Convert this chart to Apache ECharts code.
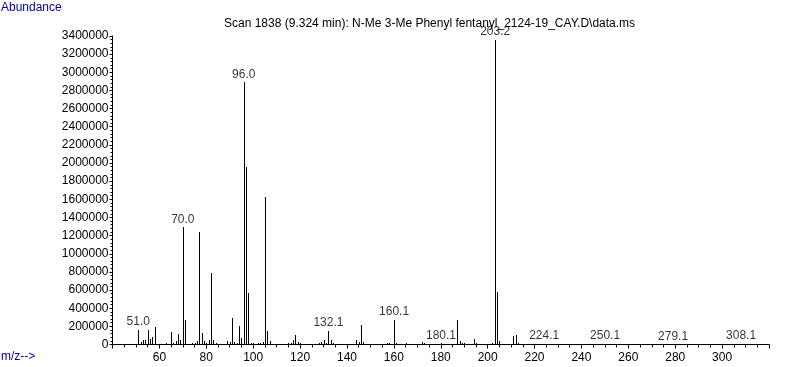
<!DOCTYPE html>
<html>
<head>
<meta charset="utf-8">
<script src="https://cdn.jsdelivr.net/npm/echarts@6/dist/echarts.min.js"></script>
<style>
  html, body { margin: 0; padding: 0; background: #fff; }
  #chart { width: 787px; height: 367px; }
</style>
</head>
<body>
<div id="chart"></div>
<script>
// m/z values and their abundances
const mzValues = [
  51, 52, 53, 54, 55, 56, 57, 58, 59, 62, 63, 64, 65, 66, 67, 68, 69, 70, 71, 72,
  74, 75, 76, 77, 78, 79, 80, 81, 82, 83, 84, 85, 89, 90, 91, 92, 93, 94, 95, 96,
  97, 98, 99, 100, 101, 102, 103, 104, 105, 106, 107, 108, 115, 116, 117, 118, 119, 120, 122, 126,
  128, 129, 130, 131, 132, 133, 134, 139, 143, 144, 145, 146, 147, 156, 157, 158, 160, 161, 165, 166,
  167, 172, 173, 174, 175, 176, 180, 187, 188, 189, 190, 194, 195, 196, 201, 202, 203, 204, 205, 206,
  208, 211, 212, 213, 224, 250, 279, 308
];
const abundances = [
  165000, 30000, 50000, 50000, 165000, 65000, 80000, 190000, 10000, 10000, 22000, 10000, 135000, 20000, 35000, 120000, 50000, 1290000, 270000, 10000,
  15000, 15000, 40000, 1240000, 125000, 40000, 15000, 50000, 790000, 55000, 15000, 10000, 40000, 30000, 290000, 30000, 15000, 200000, 72000, 2890000,
  1960000, 565000, 20000, 15000, 10000, 15000, 15000, 30000, 1630000, 150000, 40000, 10000, 20000, 15000, 55000, 100000, 25000, 15000, 8000, 8000,
  15000, 25000, 55000, 15000, 150000, 55000, 15000, 10000, 10000, 55000, 25000, 210000, 25000, 10000, 15000, 15000, 272000, 15000, 20000, 10000,
  10000, 30000, 15000, 10000, 10000, 10000, 12000, 275000, 37000, 20000, 12000, 62000, 20000, 10000, 10000, 15000, 3360000, 575000, 35000, 10000,
  10000, 90000, 110000, 12000, 5000, 5000, 3000, 5000
];

// annotated peaks
const peakLabels = ['51.0', '70.0', '96.0', '132.1', '160.1', '180.1', '203.2', '224.1', '250.1', '279.1', '308.1'];

const titleText = 'Scan 1838 (9.324 min): N-Me 3-Me Phenyl fentanyl_2124-19_CAY.D\\data.ms';

const chart = echarts.init(document.getElementById('chart'));

const peakData = mzValues.map((m, i) => [m, abundances[i]]);
const labelData = peakLabels.map(t => {
  const m = parseFloat(t);
  const idx = mzValues.indexOf(Math.round(m));
  return [m, abundances[idx], t];
});

const font = "'Liberation Sans', Arial, sans-serif";

chart.setOption({
  animation: false,
  backgroundColor: '#fff',
  textStyle: { fontFamily: font },
  title: {
    text: titleText,
    left: 219,
    top: 13,
    textStyle: { fontSize: 12, fontWeight: 'normal', color: '#000', fontFamily: font }
  },
  graphic: [
    { type: 'text', left: 1, top: 2, style: { text: 'Abundance', fill: '#0000a0', font: '12px ' + font } },
    { type: 'text', left: 1, top: 351, style: { text: 'm/z-->', fill: '#0000a0', font: '12px ' + font } }
  ],
  grid: { left: 112.5, right: 18, top: 36, bottom: 22.5 },
  xAxis: {
    type: 'value',
    min: 40,
    max: 320,
    interval: 20,
    axisLine: { show: true, lineStyle: { color: '#000', width: 1 } },
    axisTick: { show: true, length: 4, lineStyle: { color: '#000' } },
    minorTick: { show: true, splitNumber: 4, length: 3, lineStyle: { color: '#000' } },
    splitLine: { show: false },
    axisLabel: { showMinLabel: false, showMaxLabel: false, color: '#000', fontSize: 12, margin: 7 }
  },
  yAxis: {
    type: 'value',
    min: 0,
    max: 3400000,
    interval: 200000,
    axisLine: { show: true, lineStyle: { color: '#000', width: 1 } },
    axisTick: { show: true, length: 3, lineStyle: { color: '#000' } },
    minorTick: { show: true, splitNumber: 5, length: 2, lineStyle: { color: '#000' } },
    splitLine: { show: false },
    axisLabel: { color: '#000', fontSize: 12, margin: 4, formatter: v => String(v) }
  },
  series: [
    {
      type: 'custom',
      data: peakData,
      encode: { x: 0, y: 1 },
      renderItem: function (params, api) {
        const top = api.coord([api.value(0), api.value(1)]);
        const base = api.coord([api.value(0), 0]);
        const x = Math.round(top[0]) + 0.5;
        return {
          type: 'line',
          shape: { x1: x, y1: Math.round(base[1]), x2: x, y2: Math.round(top[1]) },
          style: { stroke: '#000', lineWidth: 1 }
        };
      }
    },
    {
      type: 'scatter',
      data: labelData,
      symbolSize: 0,
      silent: true,
      label: {
        show: true,
        position: 'top',
        distance: 2,
        color: '#000',
        fontSize: 12,
        fontFamily: font,
        formatter: p => p.value[2]
      }
    }
  ]
});
</script>
</body>
</html>
